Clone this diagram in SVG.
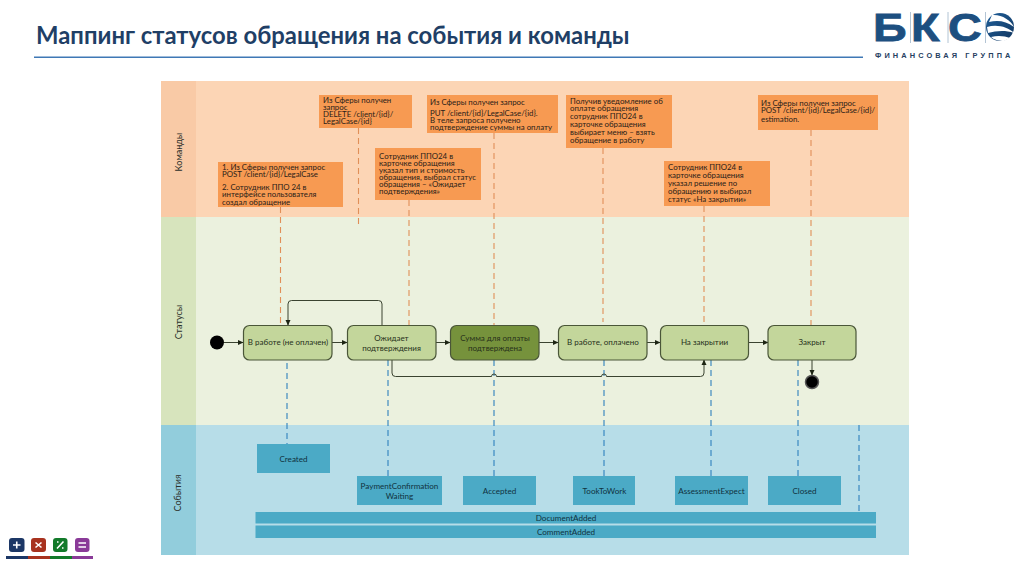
<svg xmlns="http://www.w3.org/2000/svg" width="1024" height="574" viewBox="0 0 1024 574">
<defs>
<marker id="arr" markerWidth="6" markerHeight="6" refX="5" refY="3" orient="auto" markerUnits="userSpaceOnUse"><path d="M0,0.5 L5.5,3 L0,5.5 Z" fill="#1c2413"/></marker>
<linearGradient id="gl" x1="0" y1="0" x2="1" y2="1"><stop offset="0" stop-color="#1f5f9a"/><stop offset="1" stop-color="#12365f"/></linearGradient>
</defs>
<style>
text{font-family:Lato,"Liberation Sans",sans-serif;fill:#2a2118}
.c{font-size:7.85px}
.n{font-size:8px;text-anchor:middle;fill:#26301a}
.e{font-size:8.1px;text-anchor:middle;fill:#10323e}
.l{font-size:9px;text-anchor:middle;fill:#2b2f2a}
.logo{font-family:"Liberation Sans",sans-serif;font-size:39px;font-weight:700;fill:#1d4f80;stroke:#1d4f80;stroke-width:0.8}
.box{fill:#f79a52}
.node{fill:#c3d69b;stroke:#4a5638;stroke-width:1.2}
.ev{fill:#4baac6}
.or{stroke:#e08f58;stroke-width:1.1;stroke-dasharray:6 4;fill:none}
.bl{stroke:#2f80bd;stroke-width:1.1;stroke-dasharray:6 4;fill:none}
.fl{stroke:#3a4330;stroke-width:1;fill:none;marker-end:url(#arr)}
.ic{stroke:#fff;stroke-width:1.6;fill:none}
</style>
<rect width="1024" height="574" fill="#fff"/>
<g id="header">
<text x="36" y="44" font-size="23.850" font-weight="700" style="fill:#1f3f66">Маппинг статусов обращения на события и команды</text>
<rect x="34" y="56.500" width="829" height="1.500" fill="#3f78b5"/>
</g>
<g id="logo">
<text class="logo" transform="translate(873,41) scale(1.2,1)">Б</text>
<text class="logo" transform="translate(911,41) scale(1.2,1)">К</text>
<text class="logo" transform="translate(948,41) scale(1.2,1)">С</text>
<path d="M910.500 12V43M948 12V43M985.500 12V43" stroke="#9fb5c9" stroke-width="0.8"/>
<circle cx="1000" cy="27" r="14" fill="url(#gl)"/>
<path d="M992 15C1001 14 1011 20 1014 27C1006 21 998 20 989 22ZM987 27C997 24 1008 27 1014 33C1005 30 996 31 988 33ZM991 37C998 35 1005 36 1010 38L1004 41C1000 41 994 40 991 37Z" fill="#fff"/>
<text x="875" y="58" font-size="7.400" font-weight="700" letter-spacing="3.100" style="font-family:'Liberation Sans',sans-serif;fill:#26405f">ФИНАНСОВАЯ ГРУППА</text>
</g>
<g id="lanes">
<rect x="161" y="81" width="748" height="136" fill="#fcd5b5"/>
<rect x="161" y="81" width="35" height="136" fill="#f9caa6"/>
<rect x="161" y="217" width="748" height="208" fill="#ebf1de"/>
<rect x="161" y="217" width="35" height="208" fill="#d7e4bd"/>
<rect x="161" y="425" width="748" height="130" fill="#b7dde8"/>
<rect x="161" y="425" width="35" height="130" fill="#92cddc"/>
<text class="l" transform="translate(182,152) rotate(-90)">Команды</text>
<text class="l" transform="translate(182,322) rotate(-90)">Статусы</text>
<text class="l" transform="translate(181,493) rotate(-90)">События</text>
</g>
<g id="commands">
<g id="cmd1"><rect class="box" x="218" y="162" width="125" height="45"/>
<text class="c" x="222" y="170">1. Из Сферы получен запрос</text>
<text class="c" x="222" y="177">POST /client/{id}/LegalCase</text>
<text class="c" x="222" y="190">2. Сотрудник ППО 24 в</text>
<text class="c" x="222" y="197">интерфейсе пользователя</text>
<text class="c" x="222" y="204.500">создал обращение</text></g>
<g id="cmd2"><rect class="box" x="319" y="95" width="93" height="33"/>
<text class="c" x="323" y="103">Из Сферы получен</text>
<text class="c" x="323" y="110">запрос</text>
<text class="c" x="323" y="116.500">DELETE /client/{id}/</text>
<text class="c" x="323" y="124">LegalCase/{id}</text></g>
<g id="cmd3"><rect class="box" x="427" y="95" width="131" height="38"/>
<text class="c" x="430" y="105">Из Сферы получен запрос</text>
<text class="c" x="430" y="116">PUT /client/{id}/LegalCase/{id}.</text>
<text class="c" x="430" y="123">В теле запроса получено</text>
<text class="c" x="430" y="130">подтверждение суммы на оплату</text></g>
<g id="cmd4"><rect class="box" x="375" y="148" width="106" height="52"/>
<text class="c" x="379" y="159">Сотрудник ППО24 в</text>
<text class="c" x="379" y="166">карточке обращения</text>
<text class="c" x="379" y="173">указал тип и стоимость</text>
<text class="c" x="379" y="180">обращения, выбрал статус</text>
<text class="c" x="379" y="186.500">обращения – «Ожидает</text>
<text class="c" x="379" y="193.500">подтверждения»</text></g>
<g id="cmd5"><rect class="box" x="566" y="95" width="106" height="53"/>
<text class="c" x="570" y="104">Получив уведомление об</text>
<text class="c" x="570" y="111">оплате обращения</text>
<text class="c" x="570" y="119">сотрудник ППО24 в</text>
<text class="c" x="570" y="127">карточке обращения</text>
<text class="c" x="570" y="135">выбирает меню – взять</text>
<text class="c" x="570" y="143">обращение в работу</text></g>
<g id="cmd6"><rect class="box" x="664" y="161" width="106" height="45"/>
<text class="c" x="668" y="170">Сотрудник ППО24 в</text>
<text class="c" x="668" y="178">карточке обращения</text>
<text class="c" x="668" y="186">указал решение по</text>
<text class="c" x="668" y="194">обращению и выбирал</text>
<text class="c" x="668" y="202">статус «На закрытии»</text></g>
<g id="cmd7"><rect class="box" x="758" y="95" width="120" height="35"/>
<text class="c" x="761" y="106">Из Сферы получен запрос</text>
<text class="c" x="761" y="113">POST /client/{id}/LegalCase/{id}/</text>
<text class="c" x="761" y="122">estimation.</text></g>
</g>
<g id="connectors">
<path class="or" d="M280.500 207V325"/>
<path class="or" d="M358.500 128V226"/>
<path class="or" d="M409 200V325"/>
<path class="or" d="M494 133V325"/>
<path class="or" d="M603 148V322"/>
<path class="or" d="M704 206V325"/>
<path class="or" d="M811 130V325"/>
<path class="bl" d="M287 363V444"/>
<path class="bl" d="M388 360V476"/>
<path class="bl" d="M494 360V476"/>
<path class="bl" d="M604 360V476"/>
<path class="bl" d="M711 360V476"/>
<path class="bl" d="M798 360V476"/>
<path class="bl" d="M859 425V512"/>
<path class="fl" d="M224 342.500H243"/>
<path class="fl" d="M332 342.500H347"/>
<path class="fl" d="M436 342.500H450"/>
<path class="fl" d="M539 342.500H558"/>
<path class="fl" d="M647 342.500H660"/>
<path class="fl" d="M748 342.500H768"/>
<path class="fl" d="M812 360V375"/>
<path class="fl" d="M382 325V304Q382 300.500 378.500 300.500H291.500Q288 300.500 288 304V325"/>
<path class="fl" d="M392 360V373Q392 376.500 395.500 376.500H491.500A2.500 2.500 0 0 1 496.500 376.500H601.500A2.500 2.500 0 0 1 606.500 376.500H700.500Q704 376.500 704 373V360"/>
</g>
<g id="start"><circle cx="217" cy="342.500" r="7" fill="#000"/></g>
<g id="end"><circle cx="812" cy="382" r="6.500" fill="#000" stroke="#555" stroke-width="1.500"/></g>
<g id="s1"><rect class="node" x="243.500" y="325.500" width="88.500" height="34.500" rx="6"/><text class="n" x="288" y="345">В работе (не оплачен)</text></g>
<g id="s2"><rect class="node" x="347.500" y="325.500" width="88.500" height="34.500" rx="6"/><text class="n" x="391.500" y="341">Ожидает</text><text class="n" x="391.500" y="351">подтверждения</text></g>
<g id="s3"><rect class="node" style="fill:#76923c" x="450.500" y="325.500" width="88.500" height="34.500" rx="6"/><text class="n" x="495" y="341">Сумма для оплаты</text><text class="n" x="495" y="351">подтверждена</text></g>
<g id="s4"><rect class="node" x="558.500" y="325.500" width="88.500" height="34.500" rx="6"/><text class="n" x="603" y="345">В работе, оплачено</text></g>
<g id="s5"><rect class="node" x="660.500" y="325.500" width="88" height="34.500" rx="6"/><text class="n" x="704.500" y="345">На закрытии</text></g>
<g id="s6"><rect class="node" x="768" y="325.500" width="88" height="34.500" rx="6"/><text class="n" x="812" y="345">Закрыт</text></g>
<g id="e1"><rect class="ev" x="257" y="444" width="73" height="29"/><text class="e" x="293.500" y="462">Created</text></g>
<g id="e2"><rect class="ev" x="357" y="476" width="85" height="29"/><text class="e" x="399.500" y="489">PaymentConfirmation</text><text class="e" x="399.500" y="499">Waiting</text></g>
<g id="e3"><rect class="ev" x="463" y="476" width="73" height="29"/><text class="e" x="499.500" y="494">Accepted</text></g>
<g id="e4"><rect class="ev" x="573" y="476" width="62" height="29"/><text class="e" x="604.500" y="494">TookToWork</text></g>
<g id="e5"><rect class="ev" x="675" y="476" width="73" height="29"/><text class="e" x="711.500" y="494">AssessmentExpect</text></g>
<g id="e6"><rect class="ev" x="768" y="476" width="73" height="29"/><text class="e" x="804.500" y="494">Closed</text></g>
<g id="e7"><rect class="ev" x="255.500" y="512" width="620.500" height="11.500"/><text class="e" x="566" y="521">DocumentAdded</text></g>
<g id="e8"><rect class="ev" x="255.500" y="525.500" width="620.500" height="12.500"/><text class="e" x="566" y="535">CommentAdded</text></g>
<g id="footer">
<rect x="9" y="538" width="15.500" height="14" rx="3" fill="#1c3766"/>
<path class="ic" d="M13 545H20.500M16.750 541.500V548.500"/>
<rect x="31" y="538" width="15" height="14" rx="3" fill="#a8321f"/>
<path class="ic" d="M35.500 542.500L41.500 547.500M41.500 542.500L35.500 547.500"/>
<rect x="53" y="538" width="14.500" height="14" rx="3" fill="#137a2a"/>
<path class="ic" d="M57 548.500L63.500 541.500M57 542H58.500M62 548H63.500"/>
<rect x="75" y="538" width="14.500" height="14" rx="3" fill="#8a3a98"/>
<path class="ic" d="M78.500 543H86M78.500 547H86"/>
<rect x="6" y="556" width="22" height="3" fill="#1c3766"/>
<rect x="28" y="556" width="22" height="3" fill="#a8321f"/>
<rect x="50" y="556" width="22" height="3" fill="#137a2a"/>
<rect x="72" y="556" width="21" height="3" fill="#8a3a98"/>
</g>
</svg>
